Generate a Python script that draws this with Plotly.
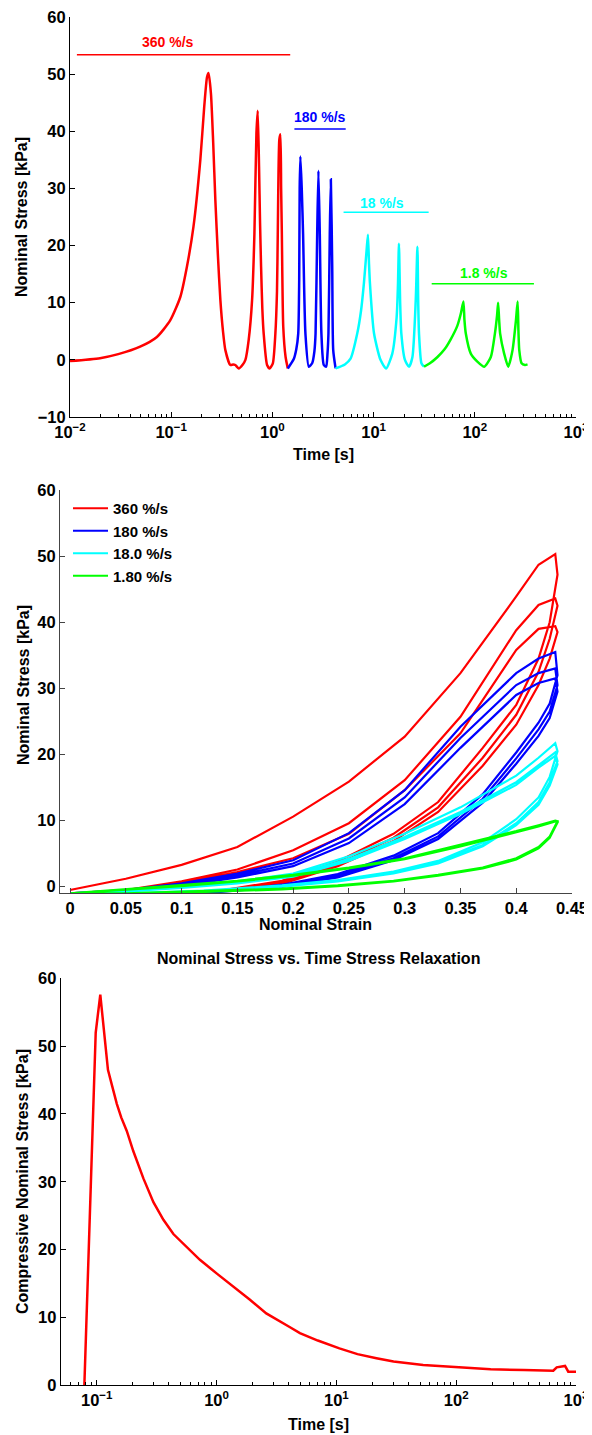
import numpy as np
import plotly.graph_objects as go

# ---------------- Panel 1 : stress vs time (cyclic) ----------------
T_360 = [0.0100, 0.0198, 0.0300, 0.0493, 0.0722, 0.0977, 0.123, 0.143, 0.166, 0.194, 0.212, 0.226, 0.234,
         0.247, 0.260, 0.273, 0.290, 0.306, 0.325, 0.343, 0.384, 0.410, 0.430, 0.464, 0.510, 0.541, 0.583,
         0.630, 0.664, 0.695, 0.716, 0.738, 0.755, 0.773, 0.795, 0.820, 0.886, 0.940, 1.01, 1.07, 1.11,
         1.13, 1.17, 1.20, 1.22, 1.24, 1.28, 1.35, 1.42]
V_360 = [-0.2, 0.3, 1.0, 2.3, 4.0, 6.9, 11.0, 16.3, 23.3, 35.0, 44.3, 49.5, 50.2,
         46.6, 38.0, 28.0, 18.0, 10.5, 5.0, 1.7, -0.9, -0.8, -0.9, -1.5, -0.8, 0.0, 3.5,
         10.5, 22.0, 39.6, 43.6, 33.8, 24.0, 16.3, 9.0, 4.6, -0.9, -1.5, -0.6, 4.6, 12.0,
         22.0, 38.5, 39.5, 30.0, 22.0, 5.8, 0.5, -1.5]

T_180 = [1.42, 1.63, 1.72, 1.80, 1.84, 1.86, 1.89, 1.95, 2.01, 2.12, 2.29, 2.47, 2.60, 2.67, 2.77, 2.85,
         2.94, 3.05, 3.22, 3.40, 3.50, 3.58, 3.69, 3.78, 3.90, 3.99, 4.21]
V_180 = [-1.5, 0.2, 1.8, 4.6, 14.0, 30.0, 35.6, 30.0, 22.0, 4.6, -1.2, -0.6, 1.5, 4.6, 22.0, 33.1,
         22.0, 4.6, -0.9, -1.2, 1.0, 4.6, 22.0, 31.6, 16.3, 1.7, -1.5]

T_18 = [4.21, 5.20, 5.92, 6.89, 7.50, 8.02, 8.53, 8.79, 9.00, 9.20, 10.1, 11.7, 13.3, 15.3, 16.9, 17.4, 17.8,
        18.3, 18.8, 20.4, 22.4, 24.2, 26.1, 27.1, 27.6, 28.1, 29.7, 31.5]
V_18 = [-1.5, -0.8, 0.2, 4.6, 8.5, 13.4, 19.2, 21.9, 17.0, 13.4, 4.6, 0.0, -1.5, 1.1, 7.5, 13.0, 20.3,
        10.0, 4.6, 0.0, -1.2, 0.5, 10.5, 19.8, 10.0, 4.6, -0.6, -1.2]

T_1_8 = [31.5, 36.0, 42.8, 50.0, 57.8, 67.3, 73.0, 77.2, 79.0, 81.5, 91.3, 106, 124, 144, 158, 166, 170,
         174, 178, 195, 214, 236, 255, 265, 270, 275, 290, 313, 332]
V_1_8 = [-1.2, -0.6, 0.5, 1.8, 3.6, 6.0, 8.2, 10.2, 7.0, 4.6, 1.1, -0.3, -1.2, 0.5, 4.6, 7.8, 10.0,
         7.0, 4.6, 1.1, -1.2, 1.7, 6.9, 10.2, 5.0, 1.7, -0.6, -0.9, -0.8]

RATE_LABELS = ["360 %/s", "180 %/s", "18 %/s", "1.8 %/s"]
LABEL_T0 = [0.0117, 1.65, 5.05, 37.5]
LABEL_T1 = [1.50, 5.30, 35.0, 384.0]
LABEL_Y = [53.4, 40.4, 25.85, 13.3]
LABEL_TX = [0.093, 2.98, 12.2, 124.0]
LABEL_TY = [55.6, 42.5, 27.4, 15.2]

# ---------------- Panel 2 : hysteresis loops ----------------
S_LOAD = [0.0, 0.05, 0.10, 0.15, 0.20, 0.25, 0.30, 0.35, 0.40, 0.42, 0.435]
S_UNLOAD = [0.437, 0.43, 0.42, 0.40, 0.37, 0.33, 0.29, 0.24, 0.19, 0.12, 0.05, 0.0]

R_LOAD = [[-0.5, 1.2, 3.3, 6.0, 10.6, 15.9, 22.7, 32.3, 43.9, 48.7, 50.3],
          [-1.0, -0.5, 0.8, 2.6, 5.5, 9.6, 16.1, 25.7, 38.8, 42.6, 43.6],
          [-1.0, -0.6, 0.6, 2.2, 4.3, 8.0, 14.6, 23.2, 35.8, 39.0, 39.4]]
R_UNLOAD = [[47.2, 40.0, 34.5, 27.5, 21.0, 12.8, 8.0, 3.8, 0.9, -1.0, -1.0, -1.0],
            [42.5, 37.5, 32.5, 26.0, 19.5, 12.0, 7.4, 3.4, 0.6, -1.0, -1.0, -1.0],
            [38.5, 34.5, 30.5, 24.5, 18.3, 11.3, 6.9, 3.1, 0.4, -1.0, -1.0, -1.0]]

B_LOAD = [[-1.0, -0.5, 0.5, 2.0, 4.0, 8.1, 14.6, 24.2, 32.3, 34.5, 35.5],
          [-1.0, -0.6, 0.3, 1.7, 3.5, 7.3, 13.5, 22.5, 30.5, 32.3, 33.0],
          [-1.0, -0.7, 0.1, 1.4, 3.1, 6.6, 12.5, 21.0, 29.0, 30.8, 31.5]]
B_UNLOAD = [[32.0, 27.7, 24.8, 20.3, 14.0, 8.1, 4.7, 1.9, 0.3, -1.0, -1.0, -1.0],
            [30.5, 26.5, 23.8, 19.4, 13.3, 7.6, 4.3, 1.6, 0.1, -1.0, -1.0, -1.0],
            [29.5, 25.5, 22.8, 18.6, 12.7, 7.2, 4.0, 1.4, 0.0, -1.0, -1.0, -1.0]]

C_LOAD = [[-1.0, -0.6, 0.0, 0.8, 2.0, 4.6, 8.0, 12.0, 16.8, 19.5, 21.7],
          [-1.0, -0.7, -0.1, 0.6, 1.7, 4.2, 7.5, 11.3, 15.8, 18.4, 20.3],
          [-1.0, -0.7, -0.2, 0.5, 1.5, 3.9, 7.2, 11.0, 15.4, 18.0, 19.8]]
C_UNLOAD = [[20.5, 16.6, 13.5, 10.2, 6.7, 3.9, 2.3, 1.0, 0.2, -0.6, -1.0, -1.0],
            [19.0, 15.8, 12.8, 9.6, 6.3, 3.6, 2.1, 0.9, 0.1, -0.7, -1.0, -1.0],
            [18.5, 15.3, 12.4, 9.3, 6.1, 3.5, 2.0, 0.8, 0.0, -0.7, -1.0, -1.0]]

G_LOAD = [[-1.0, -0.4, 0.2, 0.9, 1.8, 2.9, 4.3, 6.3, 8.4, 9.3, 10.0],
          [-1.0, -0.45, 0.15, 0.85, 1.7, 2.8, 4.2, 6.2, 8.3, 9.2, 9.9],
          [-1.0, -0.5, 0.1, 0.8, 1.65, 2.75, 4.15, 6.1, 8.2, 9.1, 9.85]]
G_UNLOAD = [[9.9, 7.6, 6.0, 4.3, 2.9, 1.8, 0.9, 0.2, -0.3, -0.7, -1.0, -1.0],
            [9.8, 7.5, 5.9, 4.2, 2.8, 1.7, 0.85, 0.15, -0.35, -0.75, -1.0, -1.0],
            [9.7, 7.4, 5.8, 4.1, 2.75, 1.65, 0.8, 0.1, -0.4, -0.8, -1.0, -1.0]]

LEGEND_NAMES = ["360 %/s", "180 %/s", "18.0 %/s", "1.80 %/s"]

# ---------------- Panel 3 : stress relaxation ----------------
T_RELAX = [0.0788, 0.0879, 0.098, 0.107, 0.124, 0.135, 0.147, 0.160, 0.178, 0.202, 0.245, 0.297,
           0.360, 0.436, 0.550, 0.726, 1.0, 1.4, 1.9, 2.6, 3.5, 4.07, 4.96, 7.0, 10.6, 15.0, 21.6,
           30.0, 53.0, 102, 194, 367, 646, 690, 750, 810, 862, 900, 1000]
V_RELAX = [0.0, 27.8, 52.0, 57.6, 46.5, 44.0, 41.5, 39.5, 37.5, 34.5, 30.5, 27.0,
           24.4, 22.3, 20.6, 18.5, 16.5, 14.5, 12.6, 10.6, 9.2, 8.6, 7.7, 6.6, 5.45, 4.6, 4.0,
           3.5, 3.0, 2.65, 2.35, 2.25, 2.15, 2.65, 2.8, 2.85, 2.0, 2.0, 2.0]

RED, BLUE, CYAN, GREEN = "#ff0000", "#0000ff", "#00ffff", "#00ff00"
FONT = "Liberation Sans, Arial, Helvetica, sans-serif"
# page body has an 8px default margin: figure is placed at (8, 8) in the window
OFF = 8
W, H = 592 - OFF, 1435 - OFF

fig = go.Figure()

# panel 1 curves
for t, v, c in [(T_360, V_360, RED), (T_180, V_180, BLUE), (T_18, V_18, CYAN), (T_1_8, V_1_8, GREEN)]:
    fig.add_trace(go.Scatter(x=t, y=v, mode="lines", line=dict(color=c, width=2.5, shape="spline", smoothing=0.6),
                             xaxis="x", yaxis="y", showlegend=False, hoverinfo="skip"))
# panel 1 rate label lines
for i, c in enumerate([RED, BLUE, CYAN, GREEN]):
    fig.add_trace(go.Scatter(x=[LABEL_T0[i], LABEL_T1[i]], y=[LABEL_Y[i], LABEL_Y[i]], mode="lines",
                             line=dict(color=c, width=1.5), xaxis="x", yaxis="y",
                             showlegend=False, hoverinfo="skip"))
    fig.add_annotation(x=np.log10(LABEL_TX[i]), y=LABEL_TY[i], xref="x", yref="y", text=RATE_LABELS[i],
                       showarrow=False, font=dict(color=c, size=14, family=FONT, weight="bold"),
                       xanchor="center", yanchor="middle")

# panel 2 loops: one trace per rate, cycles concatenated
for name, loads, unloads, c in [(LEGEND_NAMES[0], R_LOAD, R_UNLOAD, RED),
                                (LEGEND_NAMES[1], B_LOAD, B_UNLOAD, BLUE),
                                (LEGEND_NAMES[2], C_LOAD, C_UNLOAD, CYAN),
                                (LEGEND_NAMES[3], G_LOAD, G_UNLOAD, GREEN)]:
    xs, ys = [], []
    for ld, ul in zip(loads, unloads):
        xs += S_LOAD + S_UNLOAD
        ys += ld + ul
    fig.add_trace(go.Scatter(x=xs, y=ys, mode="lines", name=name, line=dict(color=c, width=2.2),
                             xaxis="x2", yaxis="y2", hoverinfo="skip"))

# panel 3
fig.add_trace(go.Scatter(x=T_RELAX, y=V_RELAX, mode="lines", line=dict(color=RED, width=2.5),
                         xaxis="x3", yaxis="y3", showlegend=False, hoverinfo="skip"))


def px_x(p):
    return (p - OFF) / W


def px_y(p):
    return 1 - (p - OFF) / H


log_ticks = [0.01, 0.1, 1, 10, 100, 1000]
log_text = ["10<sup>−2</sup>", "10<sup>−1</sup>", "10<sup>0</sup>", "10<sup>1</sup>", "10<sup>2</sup>", "10<sup>3</sup>"]
minor_vals = [m * d for d in [0.01, 0.1, 1, 10, 100] for m in range(2, 10)]

tickfont = dict(family=FONT, size=16.5, color="black", weight="bold")
common = dict(showgrid=False, zeroline=False, showline=True, linewidth=1, ticks="inside",
              ticklen=5, tickwidth=1, tickfont=tickfont, mirror=False, automargin=False,
              ticklabeloverflow="allow")

fig.update_layout(
    template="none",
    width=W, height=H, margin=dict(l=0, r=0, t=0, b=0, pad=0),
    paper_bgcolor="white", plot_bgcolor="white",
    font=dict(family=FONT, color="black"),
    xaxis=dict(type="log", range=[-2, 3], domain=[px_x(70), px_x(576)], anchor="y",
               tickmode="array", tickvals=log_ticks, ticktext=log_text, linecolor="black",
               tickcolor="black",
               minor=dict(tickmode="array", tickvals=minor_vals, ticks="inside", ticklen=3,
                          tickcolor="black", showgrid=False), **common),
    yaxis=dict(range=[-10, 60], dtick=10, domain=[px_y(417), px_y(17)], anchor="x",
               linecolor="black", tickcolor="black", **common),
    xaxis2=dict(range=[-0.009, 0.45], domain=[px_x(60), px_x(572)], anchor="y2",
                linecolor="#444", tickcolor="#444", tickmode="array",
                tickvals=[0, 0.05, 0.1, 0.15, 0.2, 0.25, 0.3, 0.35, 0.4, 0.45],
                ticktext=["0", "0.05", "0.1", "0.15", "0.2", "0.25", "0.3", "0.35", "0.4", "0.45"], **common),
    yaxis2=dict(range=[-1, 60], dtick=10, tick0=0, domain=[px_y(893.3), px_y(490)], anchor="x2",
                linecolor="#444", tickcolor="#444", **common),
    xaxis3=dict(type="log", range=[np.log10(0.05), 3], domain=[px_x(60.7), px_x(576)], anchor="y3",
                tickmode="array", tickvals=log_ticks[1:], ticktext=log_text[1:], linecolor="black",
                tickcolor="black",
                minor=dict(tickmode="array", tickvals=[v for v in minor_vals if v > 0.05], ticks="inside",
                           ticklen=3, tickcolor="black", showgrid=False), **common),
    yaxis3=dict(range=[0, 60], dtick=10, domain=[px_y(1385.3), px_y(978.3)], anchor="x3",
                linecolor="black", tickcolor="black", **common),
    legend=dict(x=px_x(68), y=px_y(492), xanchor="left", yanchor="top", bgcolor="rgba(0,0,0,0)",
                borderwidth=0, font=dict(family=FONT, size=15, color="black", weight="bold"),
                tracegroupgap=0, itemwidth=35),
    showlegend=True,
)

title_font = dict(family=FONT, size=16, color="black", weight="bold")
titles = [
    (22, 217, "Nominal Stress [kPa]", -90),
    (323, 455, "Time [s]", 0),
    (23, 685, "Nominal Stress [kPa]", -90),
    (315, 924, "Nominal Strain", 0),
    (22, 1182, "Compressive Nominal Stress [kPa]", -90),
    (318, 1424, "Time [s]", 0),
    (318, 959, "Nominal Stress vs. Time Stress Relaxation", 0),
]
for x, y, txt, ang in titles:
    fig.add_annotation(x=px_x(x), y=px_y(y), xref="paper", yref="paper", text=txt, textangle=ang,
                       showarrow=False, font=title_font, xanchor="center", yanchor="middle")

fig.write_html("out.html")
